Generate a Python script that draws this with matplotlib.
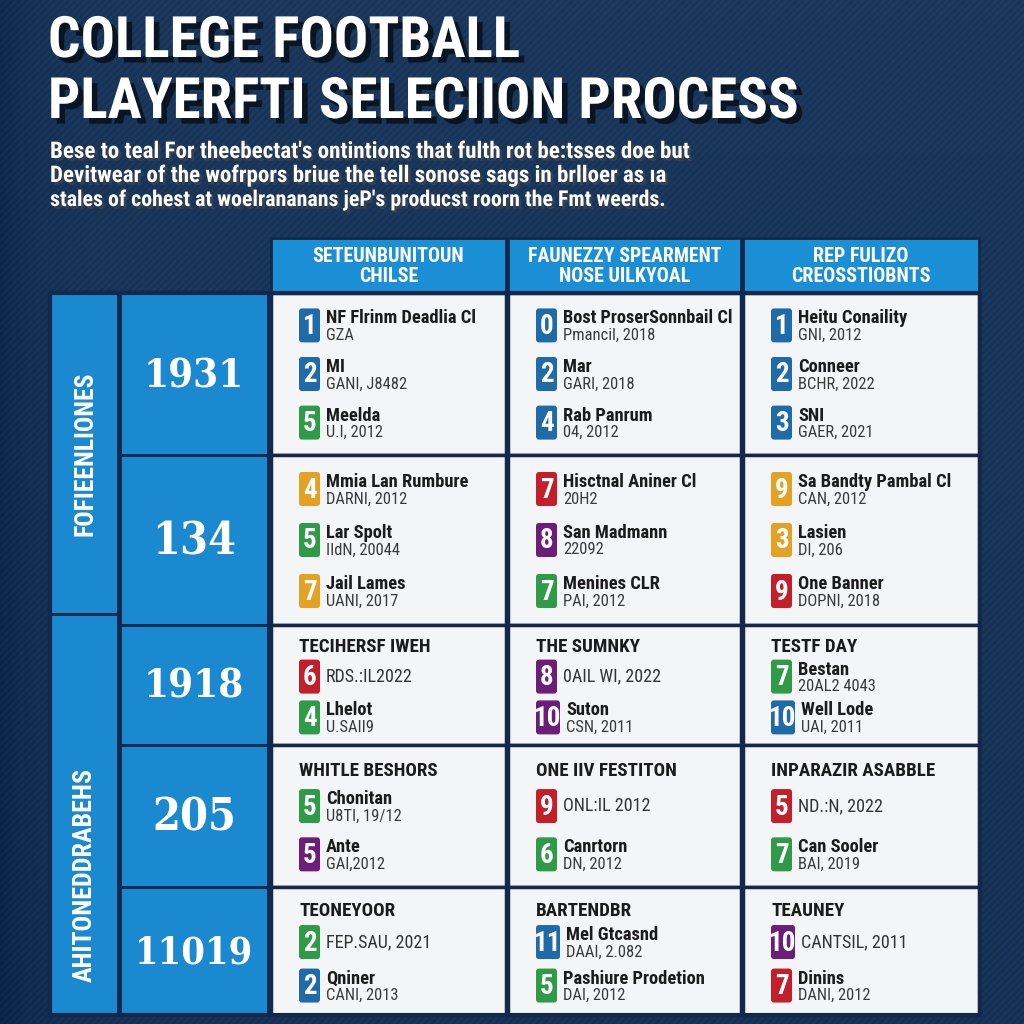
"""Recreation of the 'college football player selection' table graphic."""
import numpy as np
import matplotlib
matplotlib.use("Agg")
import matplotlib.pyplot as plt
import matplotlib.patheffects as pe
from matplotlib import font_manager
from matplotlib.patches import Rectangle, FancyBboxPatch

# ---- content -------------------------------------------------------------
title_lines = ["COLLEGE FOOTBALL", "PLAYERFTI SELECIION PROCESS"]
subtitle_lines = [
    "Bese to teal For theebectat's ontintions that fulth rot be:tsses doe but",
    "Devitwear of the wofrpors briue the tell sonose sags in brlloer as \u0131a",
    "stales of cohest at woelrananans jeP's producst roorn the Fmt weerds.",
]
col_headers = [("SETEUNBUNITOUN", "CHILSE"),
               ("FAUNEZZY SPEARMENT", "NOSE UILKYOAL"),
               ("REP FULIZO", "CREOSSTIOBNTS")]
row_years = ["1931", "134", "1918", "205", "11019"]
group_labels = ["FOFIEENLIONES", "AHITONEDDRABEHS"]
group_rows = [(0, 2), (2, 5)]

cell_titles = [
    [None, None, None],
    [None, None, None],
    ["TECIHERSF IWEH", "THE SUMNKY", "TESTF DAY"],
    ["WHITLE BESHORS", "ONE IIV FESTITON", "INPARAZIR ASABBLE"],
    ["TEONEYOOR", "BARTENDBR", "TEAUNEY"],
]
# (badge number, badge colour, name, detail line)
cell_entries = [
    [[("1", "b", "NF Flrinm Deadlia Cl", "GZA"), ("2", "b", "MI", "GANI, J8482"),
      ("5", "g", "Meelda", "U.I, 2012")],
     [("0", "b", "Bost ProserSonnbail Cl", "Pmancil, 2018"), ("2", "b", "Mar", "GARI, 2018"),
      ("4", "b", "Rab Panrum", "04, 2012")],
     [("1", "b", "Heitu Conaility", "GNI, 2012"), ("2", "b", "Conneer", "BCHR, 2022"),
      ("3", "b", "SNI", "GAER, 2021")]],
    [[("4", "o", "Mmia Lan Rumbure", "DARNI, 2012"), ("5", "g", "Lar Spolt", "IIdN, 20044"),
      ("7", "o", "Jail Lames", "UANI, 2017")],
     [("7", "r", "Hisctnal Aniner Cl", "20H2"), ("8", "p", "San Madmann", "22092"),
      ("7", "g", "Menines CLR", "PAI, 2012")],
     [("9", "o", "Sa Bandty Pambal Cl", "CAN, 2012"), ("3", "o", "Lasien", "DI, 206"),
      ("9", "r", "One Banner", "DOPNI, 2018")]],
    [[("6", "r", None, "RDS.:IL2022"), ("4", "g", "Lhelot", "U.SAII9")],
     [("8", "p", None, "0AIL WI, 2022"), ("10", "p", "Suton", "CSN, 2011")],
     [("7", "g", "Bestan", "20AL2 4043"), ("10", "b", "Well Lode", "UAI, 2011")]],
    [[("5", "g", "Chonitan", "U8TI, 19/12"), ("5", "p", "Ante", "GAI,2012")],
     [("9", "r", None, "ONL:IL 2012"), ("6", "g", "Canrtorn", "DN, 2012")],
     [("5", "r", None, "ND.:N, 2022"), ("7", "g", "Can Sooler", "BAI, 2019")]],
    [[("2", "g", None, "FEP.SAU, 2021"), ("2", "b", "Qniner", "CANI, 2013")],
     [("11", "b", "Mel Gtcasnd", "DAAI, 2.082"), ("5", "g", "Pashiure Prodetion", "DAI, 2012")],
     [("10", "p", None, "CANTSIL, 2011"), ("7", "r", "Dinins", "DANI, 2012")]],
]

BADGE = {"b": "#1f6aa8", "g": "#2f9a47", "o": "#e3a223", "r": "#c21f2b", "p": "#6b1d78"}
BLUE = "#1a89cf"
NAVY = "#13284a"
CELL = "#f4f5f7"
INK = "#1b1b1b"

# ---- layout (pixels) ----------------------------------------------------
col_x = [270, 507, 742, 980]
row_y = [293, 455, 625, 745, 887, 1015]
head_top = 238
label_x = (50, 118)
year_x = (120, 268)
group_split = 614

# ---- fonts ----------------------------------------------------------------
names = {f.name for f in font_manager.fontManager.ttflist}
cond_dejavu = any(f.name == "DejaVu Sans" and f.stretch == "condensed"
                  for f in font_manager.fontManager.ttflist)
COND = None
for cand in ["Roboto Condensed", "Liberation Sans Narrow", "Open Sans Condensed"]:
    if cand in names:
        COND = dict(family=[cand, "DejaVu Sans"])
        break
if COND is None:
    COND = dict(family=["DejaVu Sans"], stretch="condensed" if cond_dejavu else "normal")
serif_cond = any(f.name == "DejaVu Serif" and f.stretch == "condensed"
                 for f in font_manager.fontManager.ttflist)
SLAB = dict(family=["DejaVu Serif"], stretch="condensed" if serif_cond else "normal")


def pt(px):
    return px * 72 / 100.0


fig = plt.figure(figsize=(10.24, 10.24), dpi=100)
ax = fig.add_axes([0, 0, 1, 1])
ax.set_xlim(0, 1024)
ax.set_ylim(1024, 0)
ax.axis("off")
renderer = fig.canvas.get_renderer()


def fit(t, width=None, height=None, grow=False):
    bb = t.get_window_extent(renderer)
    s = 1.0
    if width is not None and (bb.width > width or grow):
        s = width / bb.width
    if height is not None and bb.height > height:
        s = min(s, height / bb.height)
    t.set_fontsize(t.get_fontsize() * s)
    return t


# background: navy with fine diagonal stripes, darker at the left edge
yy, xx = np.mgrid[0:1024, 0:1024]
base = np.array([0.105, 0.215, 0.355])
shade = 0.012 * np.sin((xx + yy) * 2 * np.pi / 7.0) - 0.05 * np.exp(-xx / 40.0) \
    - 0.02 * (yy / 1024.0)
bg = np.clip(base[None, None, :] + shade[..., None], 0, 1)
ax.imshow(bg, extent=(0, 1024, 1024, 0), zorder=0, aspect="auto")

# title with drop shadow
shadow = [pe.withSimplePatchShadow(offset=(4, -4), shadow_rgbFace="black", alpha=0.6)]
title_w = [472, 750]
for i, line in enumerate(title_lines):
    t = ax.text(48, 57 + i * 61, line, color="white", fontsize=pt(62), fontweight="heavy",
                ha="left", va="baseline", zorder=5, path_effects=shadow, **COND)
    fit(t, width=title_w[i], grow=True)

sub_w = [647, 615, 615]
for i, line in enumerate(subtitle_lines):
    t = ax.text(50, 158 + i * 24, line, color="white", fontsize=pt(23), fontweight="bold",
                ha="left", va="baseline", zorder=5,
                path_effects=[pe.withSimplePatchShadow(offset=(2, -2), alpha=0.5)], **COND)
    fit(t, width=sub_w[i])

# column headers
for c, (l1, l2) in enumerate(col_headers):
    x0, x1 = col_x[c] + 1, col_x[c + 1] - 1
    ax.add_patch(Rectangle((x0, head_top), x1 - x0, row_y[0] - head_top,
                           facecolor="#1b8fd5", edgecolor=NAVY, lw=2, zorder=2))
    xc = (x0 + x1) / 2
    for j, s in enumerate((l1, l2)):
        t = ax.text(xc, 256 + j * 20, s, color="white", fontsize=pt(20), fontweight="bold",
                    ha="center", va="center", zorder=4, **COND)
        fit(t, width=x1 - x0 - 40)

# group label column
for g, (r0, r1) in enumerate(group_rows):
    y0 = row_y[r0] if g == 0 else group_split
    y1 = group_split if g == 0 else row_y[r1]
    ax.add_patch(Rectangle((label_x[0], y0), label_x[1] - label_x[0], y1 - y0,
                           facecolor=BLUE, edgecolor=NAVY, lw=2, zorder=2))
    t = ax.text((label_x[0] + label_x[1]) / 2 + 1, (y0 + y1) / 2 + (0 if g == 0 else 60),
                group_labels[g], rotation=90, color="white", fontsize=pt(26),
                fontweight="bold", ha="center", va="center", zorder=4, **COND)
    fit(t, height=165 if g == 0 else 215)

# year column and cells
for r, year in enumerate(row_years):
    y0, y1 = row_y[r], row_y[r + 1]
    h = y1 - y0
    ax.add_patch(Rectangle((year_x[0], y0), year_x[1] - year_x[0], h,
                           facecolor=BLUE, edgecolor=NAVY, lw=2, zorder=2))
    t = ax.text((year_x[0] + year_x[1]) / 2, y0 + h / 2 + 2, year, color="white",
                fontsize=pt(60), fontweight="bold", ha="center", va="center", zorder=4,
                **SLAB)
    fit(t, width=100 if len(year) == 4 else (84 if len(year) == 3 else 118))

    for c in range(3):
        x0, x1 = col_x[c] + 1, col_x[c + 1] - 1
        ax.add_patch(Rectangle((x0, y0), x1 - x0, h, facecolor=CELL, edgecolor=NAVY,
                               lw=2.5, zorder=2))
        title = cell_titles[r][c]
        entries = cell_entries[r][c]
        if title is None:
            ys = [y0 + h * f for f in (0.2, 0.5, 0.8)]
        else:
            tt = ax.text(x0 + 28, y0 + h * 0.185, title, color=INK, fontsize=pt(19),
                         fontweight="bold", ha="left", va="center", zorder=4, **COND)
            fit(tt, width=x1 - x0 - 45)
            ys = [y0 + h * f for f in (0.43, 0.77)]
        for (num, col, name, sub), yc in zip(entries, ys):
            bw = 21 if len(num) == 1 else 24
            ax.add_patch(FancyBboxPatch((x0 + 28, yc - 17), bw, 34,
                                        boxstyle="round,pad=0,rounding_size=3",
                                        facecolor=BADGE[col], edgecolor="none", zorder=3))
            ax.text(x0 + 28 + bw / 2, yc + 1, num, color="white", fontsize=pt(27),
                    fontweight="bold", ha="center", va="center", zorder=4, **COND)
            tx = x0 + 28 + bw + 6
            if name is None:
                t = ax.text(tx, yc, sub, color="#333333", fontsize=pt(18),
                            ha="left", va="center", zorder=4, **COND)
                fit(t, width=x1 - tx - 8)
            else:
                t = ax.text(tx, yc - 7, name, color=INK, fontsize=pt(18.5), fontweight="bold",
                            ha="left", va="center", zorder=4, **COND)
                fit(t, width=x1 - tx - 8)
                t = ax.text(tx, yc + 10, sub, color="#3a3a3a", fontsize=pt(16.5),
                            ha="left", va="center", zorder=4, **COND)
                fit(t, width=x1 - tx - 8)

# outer frame of the table
ax.add_patch(Rectangle((label_x[0], row_y[0]), col_x[-1] - label_x[0], row_y[-1] - row_y[0],
                       facecolor="none", edgecolor=NAVY, lw=3, zorder=5))

fig.savefig("out.png", dpi=100)
plt.close(fig)
